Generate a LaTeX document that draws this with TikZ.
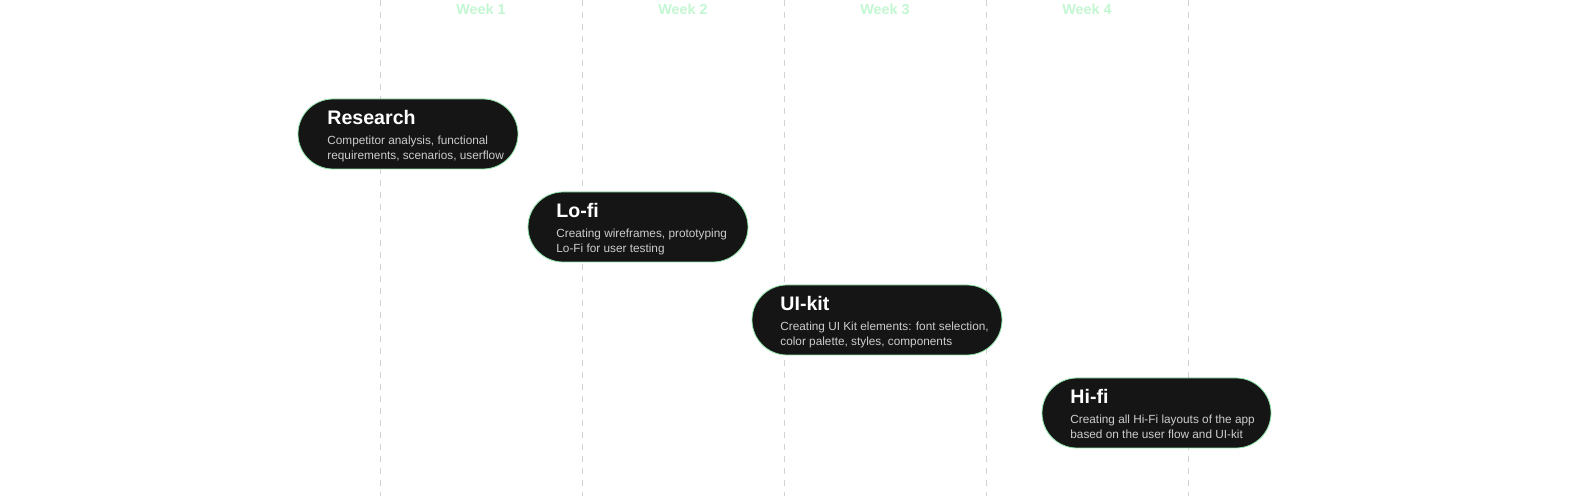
\documentclass[tikz,border=0pt]{standalone}
\usepackage{fontspec}
\setmainfont{Liberation Sans}
\definecolor{weekgreen}{HTML}{C2F7D2}
\definecolor{pillgreen}{HTML}{8FE3A8}
\definecolor{pillfill}{HTML}{151515}
\definecolor{subgrey}{HTML}{CDCDCD}
\definecolor{gridgrey}{HTML}{D2D2D2}

\tikzset{
  pill/.style={draw=pillgreen, line width=0.4pt, fill=pillfill, rounded corners=17.5pt, minimum height=35pt, inner sep=0pt},
  ptitle/.style={text=white, font=\bfseries\fontsize{9.8}{11}\selectfont, inner sep=0pt, anchor=base west},
  psub/.style={text=subgrey, font=\fontsize{5.9}{7.5}\selectfont, align=left, inner sep=0pt, anchor=north west},
  week/.style={text=weekgreen, font=\bfseries\fontsize{7.2}{8}\selectfont, inner sep=0pt, anchor=base}
}

\begin{document}
\begin{tikzpicture}[x=0.5pt, y=-0.5pt]
\useasboundingbox (0,0) rectangle (1590,496);

% week grid
\foreach \i in {0,...,4}
   {
	\draw[gridgrey, line width=0.5pt, dash pattern=on 3pt off 3pt] (380+202*\i,0) coordinate (g\i) -- (380+202*\i,496);
   };
\foreach \i in {1,...,4}
   {
	\node[week] (w\i) at (279+202*\i,15) {Week \i};
   };

% Research
\node[pill, minimum width=110pt] (research) at (408,134) {};
\node[ptitle] (research-t) at (327,125) {Research};
\node[psub] (research-s) at (327,136) {Competitor analysis, functional\\requirements, scenarios, userflow};

% Lo-fi
\node[pill, minimum width=110pt] (lofi) at (638,227) {};
\node[ptitle] (lofi-t) at (556,218) {Lo-fi};
\node[psub] (lofi-s) at (556,229) {Creating wireframes, prototyping\\Lo-Fi for user testing};

% UI-kit
\node[pill, minimum width=125pt] (uikit) at (877,320) {};
\node[ptitle] (uikit-t) at (780,311) {UI-kit};
\node[psub] (uikit-s) at (780,322) {Creating UI Kit elements: font selection,\\color palette, styles, components};

% Hi-fi
\node[pill, minimum width=114.5pt] (hifi) at (1156.5,413) {};
\node[ptitle] (hifi-t) at (1070,404) {Hi-fi};
\node[psub] (hifi-s) at (1070,415) {Creating all Hi-Fi layouts of the app\\based on the user flow and UI-kit};
\end{tikzpicture}
\end{document}
